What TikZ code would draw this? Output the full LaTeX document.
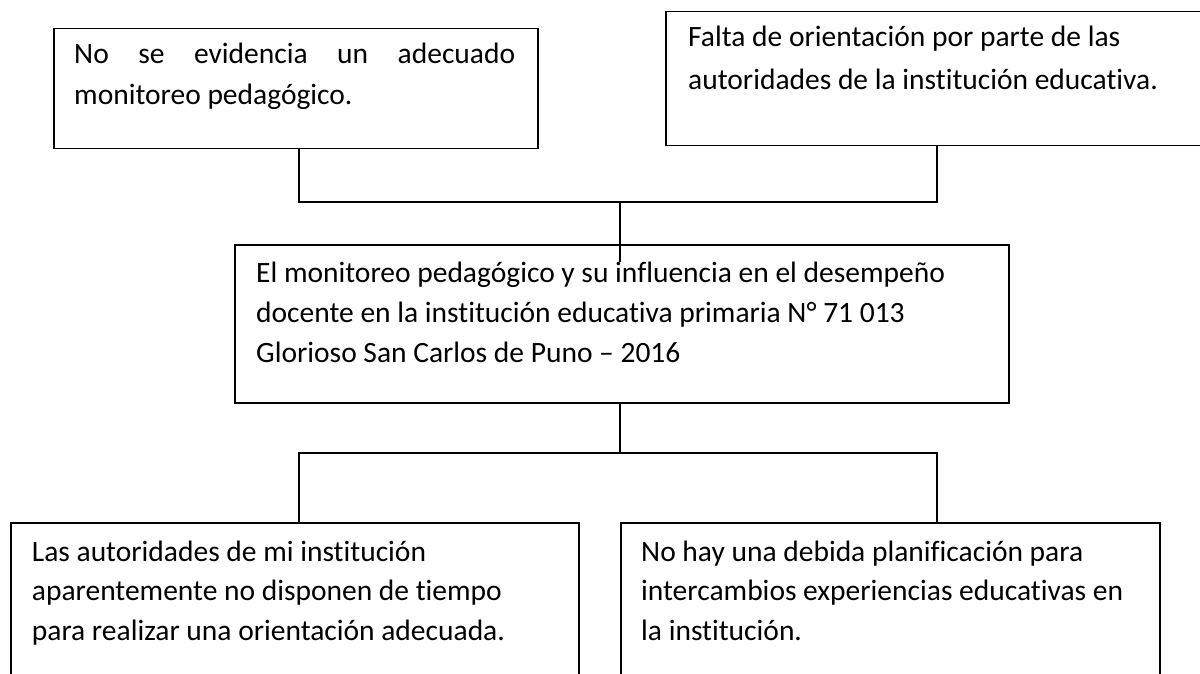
\documentclass[tikz,border=0pt]{standalone}
\usepackage{fontspec}
\setmainfont{Carlito}[Ligatures=NoCommon]
\begin{document}
\begin{tikzpicture}[x=1pt,y=-1pt,
  boxA/.style={draw=black, line width=1.5pt, anchor=north west, inner sep=0pt},
  txt/.style={anchor=base west, inner sep=0pt, align=flush left, font=\fontsize{29.5pt}{40pt}\selectfont},
  conn/.style={draw=black, line width=1.3pt}]
\useasboundingbox[fill=white] (0,0) rectangle (1200,674);
% boxes
\node[boxA, minimum width=484pt, minimum height=120pt] (A) at (53,28) {};
\node[boxA, minimum width=560pt, minimum height=134pt] (B) at (665,11) {};
\node[boxA, minimum width=774pt, minimum height=158pt] (C) at (234,244) {};
\node[boxA, minimum width=568pt, minimum height=170pt] (L) at (10,522) {};
\node[boxA, minimum width=539pt, minimum height=170pt] (R) at (620,522) {};
% texts
\node[txt, text width=450pt, font=\fontsize{29.5pt}{41pt}\selectfont] (tA) at (74,63.3)
  {\makebox[441pt][s]{No\hfill se\hfill evidencia\hfill un\hfill adecuado}\\monitoreo pedagógico.};
\node[txt, text width=500pt, font=\fontsize{29.5pt}{43pt}\selectfont] (tB) at (688,46.7)
  {Falta de orientación por parte de las\\autoridades de la institución educativa.};
\node[txt, text width=740pt] (tC) at (256,282.3)
  {El monitoreo pedagógico y su influencia en el desempeño\\docente en la institución educativa primaria N° 71 013\\Glorioso San Carlos de Puno – 2016};
\node[txt, text width=540pt, font=\fontsize{29.5pt}{39.5pt}\selectfont] (tL) at (31.7,561)
  {Las autoridades de mi institución\\aparentemente no disponen de tiempo\\para realizar una orientación adecuada.};
\node[txt, text width=515pt, font=\fontsize{29.5pt}{39.5pt}\selectfont] (tR) at (641,561)
  {No hay una debida planificación para\\intercambios experiencias educativas en\\la institución.};
% connector junctions
\coordinate (j1) at (299,202);
\coordinate (j2) at (937,202);
\coordinate (j3) at (620,202);
\coordinate (j3e) at (620,262);
\coordinate (k) at (620,453);
\coordinate (k1) at (299,453);
\coordinate (k2) at (937,453);
% connectors
\draw[conn] (A.south -| j1) -- (j1) -- (j2) -- (B.south -| j2);
\draw[conn] (j3) -- (j3e);
\draw[conn] (C.south -| k) -- (k);
\draw[conn] (L.north -| k1) -- (k1) -- (k2) -- (R.north -| k2);
\end{tikzpicture}
\end{document}
